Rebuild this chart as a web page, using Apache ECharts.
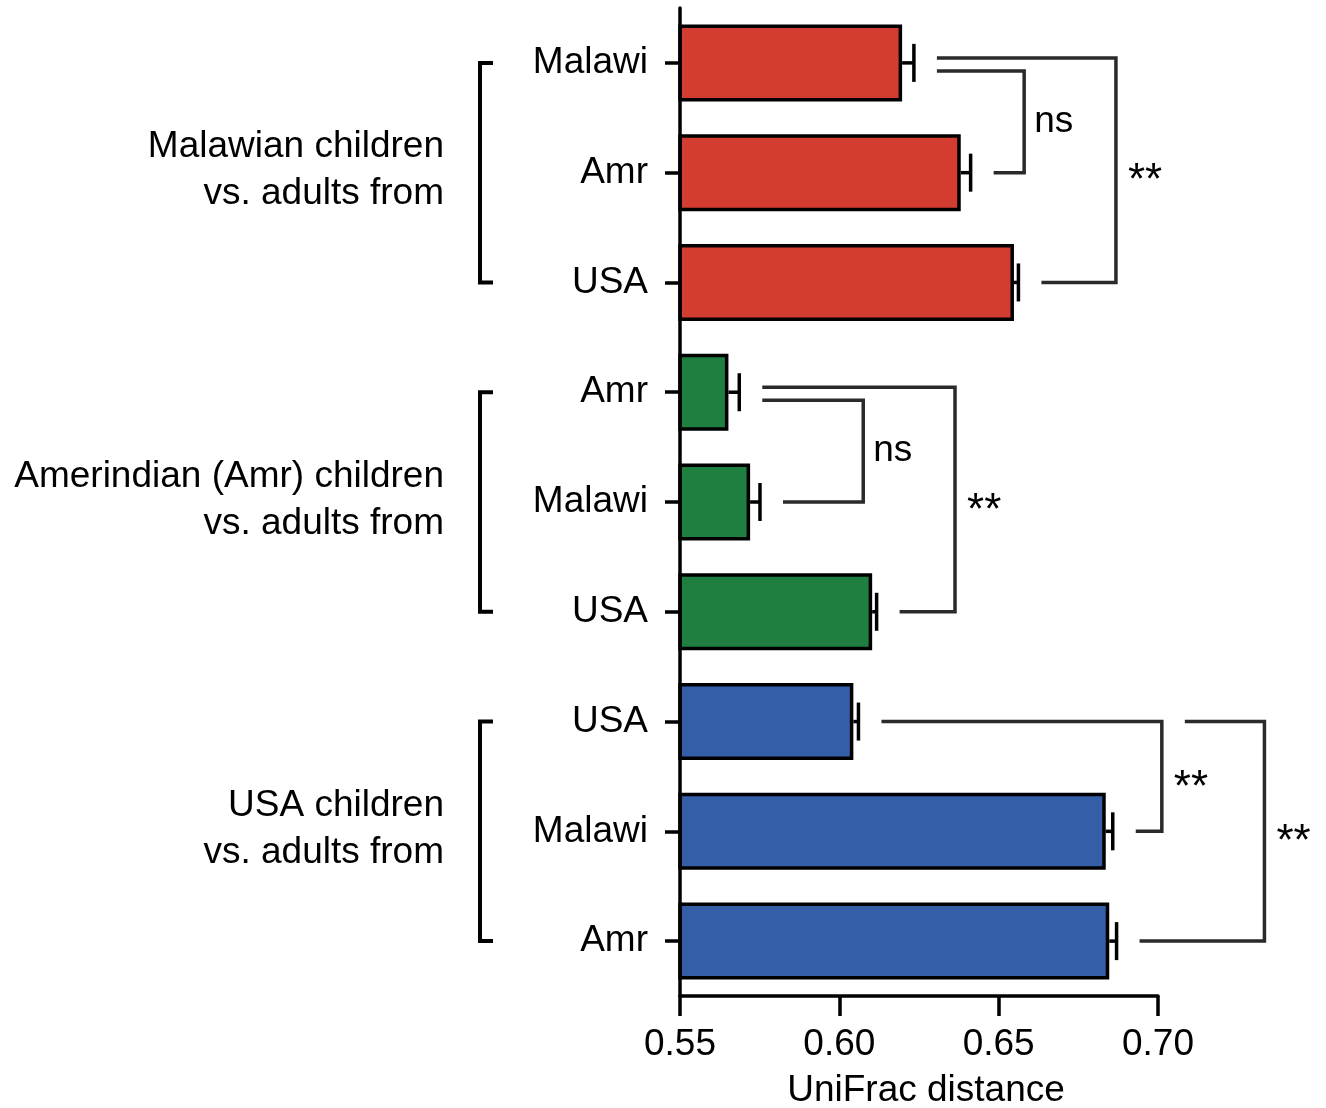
<!DOCTYPE html>
<html>
<head>
<meta charset="utf-8">
<title>UniFrac distance between children and adults</title>
<script src="https://cdn.jsdelivr.net/npm/echarts@6/dist/echarts.min.js"></script>
<style>
  html, body { margin: 0; padding: 0; background: #fff; }
  #chart { width: 1326px; height: 1108px; }
</style>
</head>
<body>
<div id="chart"></div>
<script>
// Adult populations compared with each group of children (top to bottom)
const categories = ['Malawi', 'Amr', 'USA', 'Amr', 'Malawi', 'USA', 'USA', 'Malawi', 'Amr'];
// Mean UniFrac distance and its standard error for each comparison
const distances = [0.6197, 0.6381, 0.6548, 0.5652, 0.5720, 0.6103, 0.6044, 0.6836, 0.6847];
const errors    = [0.0037, 0.0031, 0.0014, 0.0034, 0.0031, 0.0014, 0.0016, 0.0022, 0.0023];
// Groups of children
const groupNames  = ['Malawian children\nvs. adults from', 'Amerindian (Amr) children\nvs. adults from', 'USA children\nvs. adults from'];
const groupFirst  = [0, 3, 6];
const groupLast   = [2, 5, 8];
const groupColors = ['#D33D31', '#1E7F40', '#345EA7'];
// X axis ticks
const tickValues = [0.55, 0.60, 0.65, 0.70];
// Significance comparisons: rows joined, where the bracket's spine sits, and the result
const sigFrom  = [0, 0, 3, 3, 6, 6];
const sigTo    = [1, 2, 4, 5, 7, 8];
const sigAt    = [0.6580, 0.6868, 0.6075, 0.6363, 0.7012, 0.7334];
const sigLabel = ['ns', '**', 'ns', '**', '**', '**'];

// Bracket drawing details (lane of the top arm, and which bracket the arm starts after)
const sigLane  = [1, -1, 1, -1, 0, 0];
const sigAfter = [-1, -1, -1, -1, -1, 4];

const FONT = '"Liberation Sans", Arial, Helvetica, sans-serif';
const FS = 37;
const LW = 3.5;
const groupOf = i => groupFirst.filter(f => f <= i).length - 1;

const chart = echarts.init(document.getElementById('chart'), null, { renderer: 'canvas' });

const option = {
  animation: false,
  backgroundColor: '#ffffff',
  grid: { left: 680, right: 168, top: 8, bottom: 112, containLabel: false, outerBoundsMode: 'none' },
  xAxis: {
    type: 'value',
    min: tickValues[0],
    max: tickValues[tickValues.length - 1],
    interval: 0.05,
    name: 'UniFrac distance',
    nameLocation: 'middle',
    nameGap: 76,
    nameTextStyle: { fontSize: FS, fontFamily: FONT, color: '#000', padding: [0, 0, 0, 14] },
    axisLine: { show: true, lineStyle: { color: '#000', width: LW } },
    axisTick: { show: true, length: 20, lineStyle: { color: '#000', width: LW } },
    axisLabel: {
      fontSize: FS, fontFamily: FONT, color: '#000', margin: 30,
      formatter: v => v.toFixed(2)
    },
    splitLine: { show: false }
  },
  yAxis: {
    type: 'category',
    inverse: true,
    data: categories,
    z: 5,
    axisLine: { show: true, lineStyle: { color: '#000', width: LW } },
    axisTick: { show: true, length: 15, alignWithLabel: true, lineStyle: { color: '#000', width: LW } },
    axisLabel: { fontSize: FS, fontFamily: FONT, color: '#000', margin: 32 },
    splitLine: { show: false }
  },
  series: [
    {
      type: 'bar',
      barWidth: 77,
      clip: true,
      data: distances.map((v, i) => ({
        value: v,
        itemStyle: { color: groupColors[groupOf(i)], borderColor: '#000', borderWidth: LW }
      }))
    },
    {
      // error bars: stem from the bar end to the upper cap
      type: 'custom',
      clip: false,
      silent: true,
      z: 4,
      encode: { x: 0, y: 2 },
      data: distances.map((v, i) => [v, errors[i], i]),
      renderItem: (params, api) => {
        const v = api.value(0), e = api.value(1), row = api.value(2);
        const p0 = api.coord([v, row]);
        const p1 = api.coord([v + e, row]);
        const half = 19;
        const style = { stroke: '#000', lineWidth: LW };
        return {
          type: 'group',
          children: [
            { type: 'line', shape: { x1: p0[0], y1: p0[1], x2: p1[0], y2: p1[1] }, style },
            { type: 'line', shape: { x1: p1[0], y1: p1[1] - half, x2: p1[0], y2: p1[1] + half }, style }
          ]
        };
      }
    },
    {
      // significance brackets
      type: 'custom',
      clip: false,
      silent: true,
      z: 4,
      encode: { x: 0, y: 1 },
      data: sigAt.map((x, i) => [x, sigFrom[i], i]),
      renderItem: (params, api) => {
        const i = params.dataIndex;
        const gap = 23;
        const top = sigFrom[i], bot = sigTo[i];
        const spine = api.coord([sigAt[i], top])[0];
        const yTop = api.coord([sigAt[i], top])[1] + (sigLane[i] > 0 ? 8 : sigLane[i] < 0 ? -5 : 0);
        const yBot = api.coord([sigAt[i], bot])[1];
        const topStart = sigAfter[i] >= 0
          ? api.coord([sigAt[sigAfter[i]], top])[0] + gap
          : api.coord([distances[top] + errors[top], top])[0] + gap;
        const botStart = api.coord([distances[bot] + errors[bot], bot])[0] + gap;
        const isStar = sigLabel[i] === '**';
        return {
          type: 'group',
          children: [
            {
              type: 'polyline',
              shape: { points: [[topStart, yTop], [spine, yTop], [spine, yBot], [botStart, yBot]] },
              style: { stroke: '#2a2a2a', lineWidth: LW, fill: null, lineJoin: 'miter' }
            },
            {
              type: 'text',
              style: {
                x: spine + (isStar ? 12 : 10),
                y: (yTop + yBot) / 2 + (isStar ? 12 : 0),
                text: sigLabel[i],
                fill: '#000',
                fontSize: isStar ? 44 : FS,
                fontFamily: FONT,
                align: 'left',
                verticalAlign: 'middle'
              }
            }
          ]
        };
      }
    },
    {
      // group labels with their left-hand brackets
      type: 'custom',
      clip: false,
      silent: true,
      encode: { x: 0, y: 1 },
      data: groupFirst.map((f, g) => [tickValues[0], f, g]),
      renderItem: (params, api) => {
        const g = params.dataIndex;
        const pA = api.coord([tickValues[0], groupFirst[g]]);
        const pB = api.coord([tickValues[0], groupLast[g]]);
        const bx = pA[0] - 200;
        return {
          type: 'group',
          children: [
            {
              type: 'polyline',
              shape: { points: [[bx + 13, pA[1]], [bx, pA[1]], [bx, pB[1]], [bx + 13, pB[1]]] },
              style: { stroke: '#000', lineWidth: 4, fill: null, lineJoin: 'miter' }
            },
            {
              type: 'text',
              style: {
                x: pA[0] - 236,
                y: (pA[1] + pB[1]) / 2 - 2,
                text: groupNames[g],
                fill: '#000',
                fontSize: FS,
                fontFamily: FONT,
                lineHeight: 47,
                align: 'right',
                verticalAlign: 'middle'
              }
            }
          ]
        };
      }
    }
  ]
};

chart.setOption(option);
</script>
</body>
</html>
